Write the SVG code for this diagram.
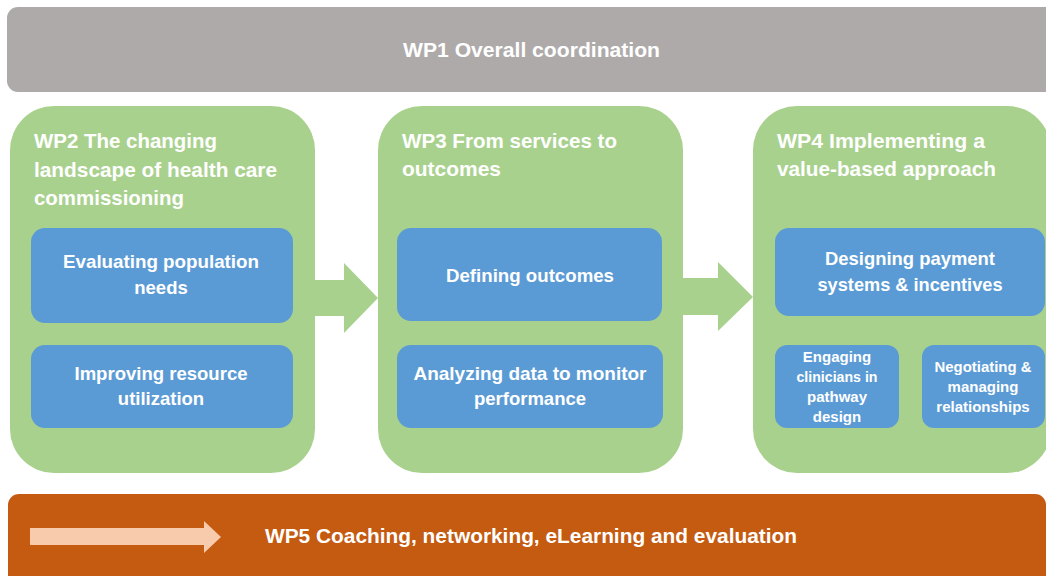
<svg xmlns="http://www.w3.org/2000/svg" width="1046" height="576" viewBox="0 0 1046 576">
  <style>
    .t { font-family: "Liberation Sans", Arial, sans-serif; font-weight: bold; fill: #ffffff; }
    .band { font-size: 20px; }
    .title { font-size: 21px; }
    .task { font-size: 18.5px; text-anchor: middle; }
    .small { font-size: 15px; text-anchor: middle; }
    .wp { fill: #A9D18E; }
    .box { fill: #5B9BD5; }
    .flow { fill: #A9D18E; }
  </style>
  <rect width="1046" height="576" fill="#ffffff"/>

  <!-- WP1 coordination band -->
  <g id="wp1">
    <rect x="7" y="7" width="1050" height="85" rx="11" fill="#AEAAAA"/>
    <text class="t band" x="403" y="57" textLength="257" lengthAdjust="spacingAndGlyphs">WP1 Overall coordination</text>
  </g>

  <!-- WP2 -->
  <g id="wp2">
    <rect class="wp" x="10" y="106" width="305" height="367" rx="44"/>
    <text class="t title" x="34" y="148" textLength="183" lengthAdjust="spacingAndGlyphs">WP2 The changing</text>
    <text class="t title" x="34" y="177" textLength="243" lengthAdjust="spacingAndGlyphs">landscape of health care</text>
    <text class="t title" x="34" y="205" textLength="150" lengthAdjust="spacingAndGlyphs">commissioning</text>
    <g id="wp2-needs">
      <rect class="box" x="31" y="228" width="262" height="95" rx="14"/>
      <text class="t task" x="161" y="268" textLength="196" lengthAdjust="spacingAndGlyphs">Evaluating population</text>
      <text class="t task" x="161" y="294">needs</text>
    </g>
    <g id="wp2-resources">
      <rect class="box" x="31" y="345" width="262" height="83" rx="14"/>
      <text class="t task" x="161" y="380" textLength="173" lengthAdjust="spacingAndGlyphs">Improving resource</text>
      <text class="t task" x="161" y="405">utilization</text>
    </g>
  </g>

  <!-- WP3 -->
  <g id="wp3">
    <rect class="wp" x="378" y="106" width="305" height="367" rx="44"/>
    <text class="t title" x="402" y="148" textLength="215" lengthAdjust="spacingAndGlyphs">WP3 From services to</text>
    <text class="t title" x="402" y="176" textLength="99" lengthAdjust="spacingAndGlyphs">outcomes</text>
    <g id="wp3-outcomes">
      <rect class="box" x="397" y="228" width="265" height="93" rx="14"/>
      <text class="t task" x="530" y="282" textLength="168" lengthAdjust="spacingAndGlyphs">Defining outcomes</text>
    </g>
    <g id="wp3-data">
      <rect class="box" x="397" y="345" width="266" height="83" rx="14"/>
      <text class="t task" x="530" y="380" textLength="233" lengthAdjust="spacingAndGlyphs">Analyzing data to monitor</text>
      <text class="t task" x="530" y="405">performance</text>
    </g>
  </g>

  <!-- WP4 -->
  <g id="wp4">
    <rect class="wp" x="753" y="106" width="298" height="367" rx="44"/>
    <text class="t title" x="777" y="148" textLength="208" lengthAdjust="spacingAndGlyphs">WP4 Implementing a</text>
    <text class="t title" x="777" y="176" textLength="219" lengthAdjust="spacingAndGlyphs">value-based approach</text>
    <g id="wp4-payment">
      <rect class="box" x="775" y="228" width="270" height="88" rx="14"/>
      <text class="t task" x="910" y="265" textLength="170" lengthAdjust="spacingAndGlyphs">Designing payment</text>
      <text class="t task" x="910" y="291" textLength="185" lengthAdjust="spacingAndGlyphs">systems &amp; incentives</text>
    </g>
    <g id="wp4-clinicians">
      <rect class="box" x="775" y="345" width="124" height="83" rx="12"/>
      <text class="t small" x="837" y="362">Engaging</text>
      <text class="t small" x="837" y="382" textLength="81" lengthAdjust="spacingAndGlyphs">clinicians in</text>
      <text class="t small" x="837" y="402">pathway</text>
      <text class="t small" x="837" y="422">design</text>
    </g>
    <g id="wp4-relationships">
      <rect class="box" x="922" y="345" width="123" height="83" rx="12"/>
      <text class="t small" x="983" y="372" textLength="97" lengthAdjust="spacingAndGlyphs">Negotiating &amp;</text>
      <text class="t small" x="983" y="392">managing</text>
      <text class="t small" x="983" y="412">relationships</text>
    </g>
  </g>

  <!-- WP5 band -->
  <g id="wp5">
    <rect x="8" y="494" width="1038" height="100" rx="11" fill="#C55A11"/>
    <polygon points="30,528 204,528 204,521 221,537 204,553 204,545 30,545" fill="#F8CBAD"/>
    <text class="t" font-size="21" x="265" y="543" textLength="532" lengthAdjust="spacingAndGlyphs">WP5 Coaching, networking, eLearning and evaluation</text>
  </g>

  <!-- flow arrows between work packages -->
  <g id="connectors">
    <polygon class="flow" points="314,280 344,280 344,263 378,298 344,333 344,316 314,316"/>
    <polygon class="flow" points="682,278 718,278 718,262 753,297 718,331 718,315 682,315"/>
  </g>
</svg>
